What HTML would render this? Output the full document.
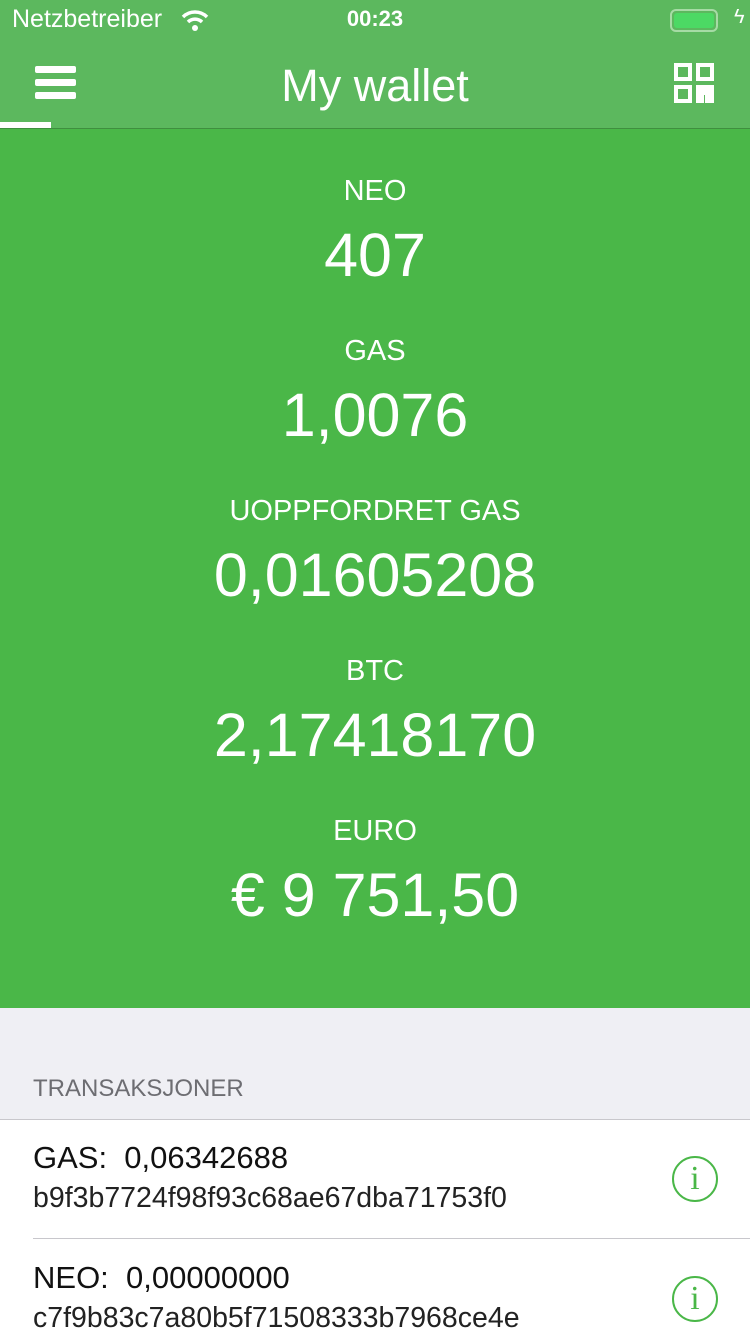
<!DOCTYPE html>
<html><head><meta charset="utf-8">
<style>
*{margin:0;padding:0;box-sizing:border-box}
body{width:750px;height:1334px;overflow:hidden;font-family:"Liberation Sans",sans-serif;background:#fff;position:relative}
.abs{position:absolute}
#top{left:0;top:0;width:750px;height:128px;background:#5cb85e}
#sep{left:0;top:128px;width:750px;height:1px;background:#3f8f3f}
#main{left:0;top:129px;width:750px;height:879px;background:#4ab748}
.lbl{width:750px;text-align:center;color:#fff;font-size:29px;font-weight:300}
.val{width:750px;text-align:center;color:#fff;font-size:61px}
#gray{left:0;top:1008px;width:750px;height:112px;background:#efeff4;border-bottom:1px solid #c8c7cc}
.tx1{left:33px;font-size:31px;color:#111}
.tx2{left:33px;font-size:28.5px;color:#222}
.info{left:672px;width:46px;height:46px;border:2px solid #4ab748;border-radius:50%;color:#4ab748;font-family:"Liberation Serif",serif;font-size:34px;text-align:center;line-height:42px}
</style></head><body>
<div id="top" class="abs"></div>
<div class="abs" style="left:12px;top:5px;color:#fff;font-size:25px">Netzbetreiber</div>
<svg class="abs" style="left:180px;top:8px" width="30" height="24"><path d="M3 9 A17 17 0 0 1 27 9" stroke="#fff" stroke-width="3.5" fill="none"/><path d="M8 14 A10 10 0 0 1 22 14" stroke="#fff" stroke-width="3.5" fill="none"/><circle cx="15" cy="20" r="3" fill="#fff"/></svg>
<div class="abs" style="left:0;width:750px;top:6px;text-align:center;color:#fff;font-size:22px;font-weight:bold">00:23</div>
<div class="abs" style="left:670px;top:9px;width:48px;height:23px;border:2px solid #a6dba5;border-radius:6px;padding:2px"><div style="width:100%;height:100%;background:#4cd964;border-radius:3px"></div></div>
<div class="abs" style="left:734px;top:6px;color:#fff;font-size:20px">ϟ</div>
<div class="abs" style="left:35px;top:66px;width:41px"><div style="height:7px;background:#fff;border-radius:2px;margin-bottom:6px"></div><div style="height:7px;background:#fff;border-radius:2px;margin-bottom:6px"></div><div style="height:7px;background:#fff;border-radius:2px"></div></div>
<div class="abs" style="left:0;top:122px;width:51px;height:6px;background:#fff"></div>
<div class="abs" style="left:0;width:750px;top:60px;text-align:center;color:#fff;font-size:45px;font-weight:300">My wallet</div>
<svg class="abs" style="left:674px;top:63px" width="40" height="40" fill="none" stroke="#fff" stroke-width="4"><rect x="2" y="2" width="14" height="14"/><rect x="24" y="2" width="14" height="14"/><rect x="2" y="24" width="14" height="14"/><rect x="24" y="24" width="6" height="6" fill="#fff"/><rect x="33" y="24" width="5" height="8" fill="#fff"/><rect x="24" y="34" width="4" height="4" fill="#fff"/><rect x="33" y="35" width="5" height="3" fill="#fff"/></svg>
<div id="sep" class="abs"></div>
<div id="main" class="abs"></div>
<div class="abs lbl" style="top:175px">NEO</div>
<div class="abs val" style="top:220px">407</div>
<div class="abs lbl" style="top:335px">GAS</div>
<div class="abs val" style="top:380px">1,0076</div>
<div class="abs lbl" style="top:495px">UOPPFORDRET GAS</div>
<div class="abs val" style="top:540px">0,01605208</div>
<div class="abs lbl" style="top:655px">BTC</div>
<div class="abs val" style="top:700px">2,17418170</div>
<div class="abs lbl" style="top:815px">EURO</div>
<div class="abs val" style="top:860px">€ 9 751,50</div>
<div id="gray" class="abs"></div>
<div class="abs" style="left:33px;top:1075px;font-size:24px;color:#6d6d72;font-weight:300">TRANSAKSJONER</div>
<div class="abs tx1" style="top:1140px">GAS:&nbsp; 0,06342688</div>
<div class="abs tx2" style="top:1182px">b9f3b7724f98f93c68ae67dba71753f0</div>
<div class="abs info" style="top:1156px">i</div>
<div class="abs" style="left:33px;top:1238px;width:717px;height:1px;background:#c8c7cc"></div>
<div class="abs tx1" style="top:1260px">NEO:&nbsp; 0,00000000</div>
<div class="abs tx2" style="top:1302px">c7f9b83c7a80b5f71508333b7968ce4e</div>
<div class="abs info" style="top:1276px">i</div>
</body></html>
